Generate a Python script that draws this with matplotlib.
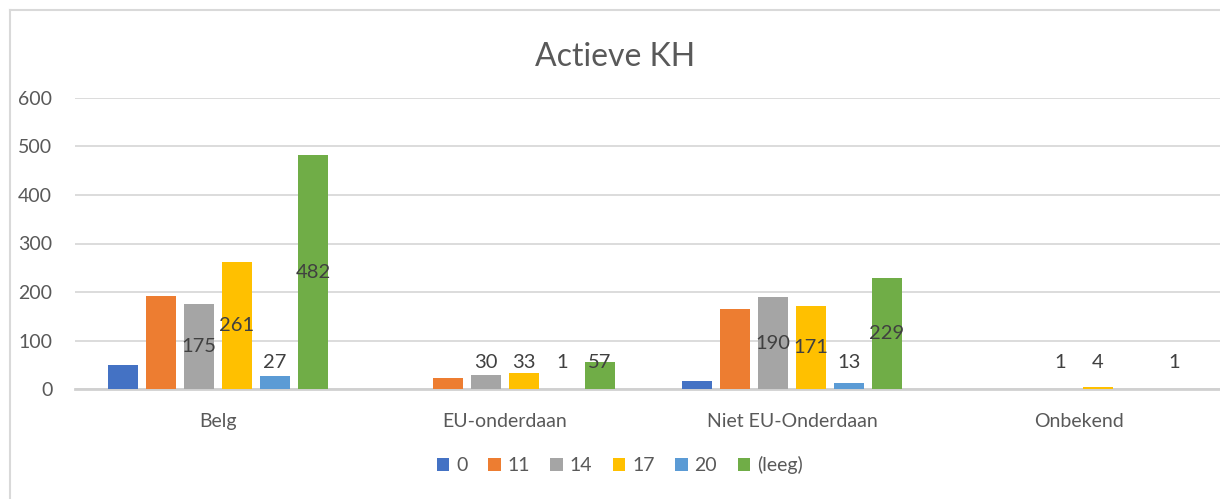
import matplotlib.pyplot as plt
import numpy as np
from matplotlib.lines import Line2D

plt.rcParams['font.family'] = ['Lato', 'DejaVu Sans']

categories = ['Belg', 'EU-onderdaan', 'Niet EU-Onderdaan', 'Onbekend']
series_names = ['0', '11', '14', '17', '20', '(leeg)']
colors = ['#4472C4', '#ED7D31', '#A5A5A5', '#FFC000', '#5B9BD5', '#70AD47']

# nan = no bar for that category
s_0 = [51, np.nan, 17, np.nan]
s_11 = [193, 24, 165, np.nan]
s_14 = [175, 30, 190, 1]
s_17 = [261, 33, 171, 4]
s_20 = [27, 1, 13, np.nan]
s_leeg = [482, 57, 229, 1]
values = [s_0, s_11, s_14, s_17, s_20, s_leeg]

# only these series carry data labels in the original
labelled = ['14', '17', '20', '(leeg)']

fig = plt.figure(figsize=(12.2, 4.99), dpi=100)
ax = fig.add_axes([74.5 / 1220, 1 - 389.3 / 499, 1148 / 1220, 291.6 / 499])

x = np.arange(len(categories))
step = 0.1324
width = 0.104

for i, (name, vals) in enumerate(zip(series_names, values)):
    pos = x + (i - 2.5) * step
    ax.bar(pos, vals, width=width, color=colors[i], label=name, zorder=3)
    if name in labelled:
        for px, v in zip(pos, vals):
            if np.isnan(v):
                continue
            ax.text(px, max(v / 2, 55), f'{v:g}', ha='center', va='center',
                    fontsize=14.5, color='#404040', zorder=4)

ax.set_xlim(-0.5, len(categories) - 0.5)
ax.set_ylim(0, 600)
ax.set_yticks(range(0, 601, 100))
ax.set_xticks(x)
ax.set_xticklabels(categories)
ax.tick_params(axis='both', length=0, labelsize=14, labelcolor='#595959')
ax.tick_params(axis='y', pad=16)
ax.tick_params(axis='x', pad=17)
ax.grid(axis='y', color='#d9d9d9', linewidth=1.3, zorder=0)
for side in ['left', 'right', 'top']:
    ax.spines[side].set_visible(False)
ax.spines['bottom'].set_color('#d0d0d0')
ax.spines['bottom'].set_linewidth(2)
ax.spines['bottom'].set_zorder(2)

fig.text(0.504, 1 - 57 / 499, 'Actieve KH', ha='center', va='center',
         fontsize=23, color='#595959')

fig.legend(loc='center', bbox_to_anchor=(0.508, 1 - 465 / 499), ncol=6,
           frameon=False, fontsize=14, labelcolor='#595959',
           handlelength=0.65, handleheight=0.65, handletextpad=0.35,
           columnspacing=1.05)

# chart border (left and top edges visible in the screenshot)
fig.add_artist(Line2D([10 / 1220, 10 / 1220], [0, 1 - 9.5 / 499],
                      transform=fig.transFigure, color='#d9d9d9', linewidth=1.5))
fig.add_artist(Line2D([10 / 1220, 1], [1 - 9.5 / 499, 1 - 9.5 / 499],
                      transform=fig.transFigure, color='#d9d9d9', linewidth=1.5))

fig.savefig('out.png', dpi=100)
